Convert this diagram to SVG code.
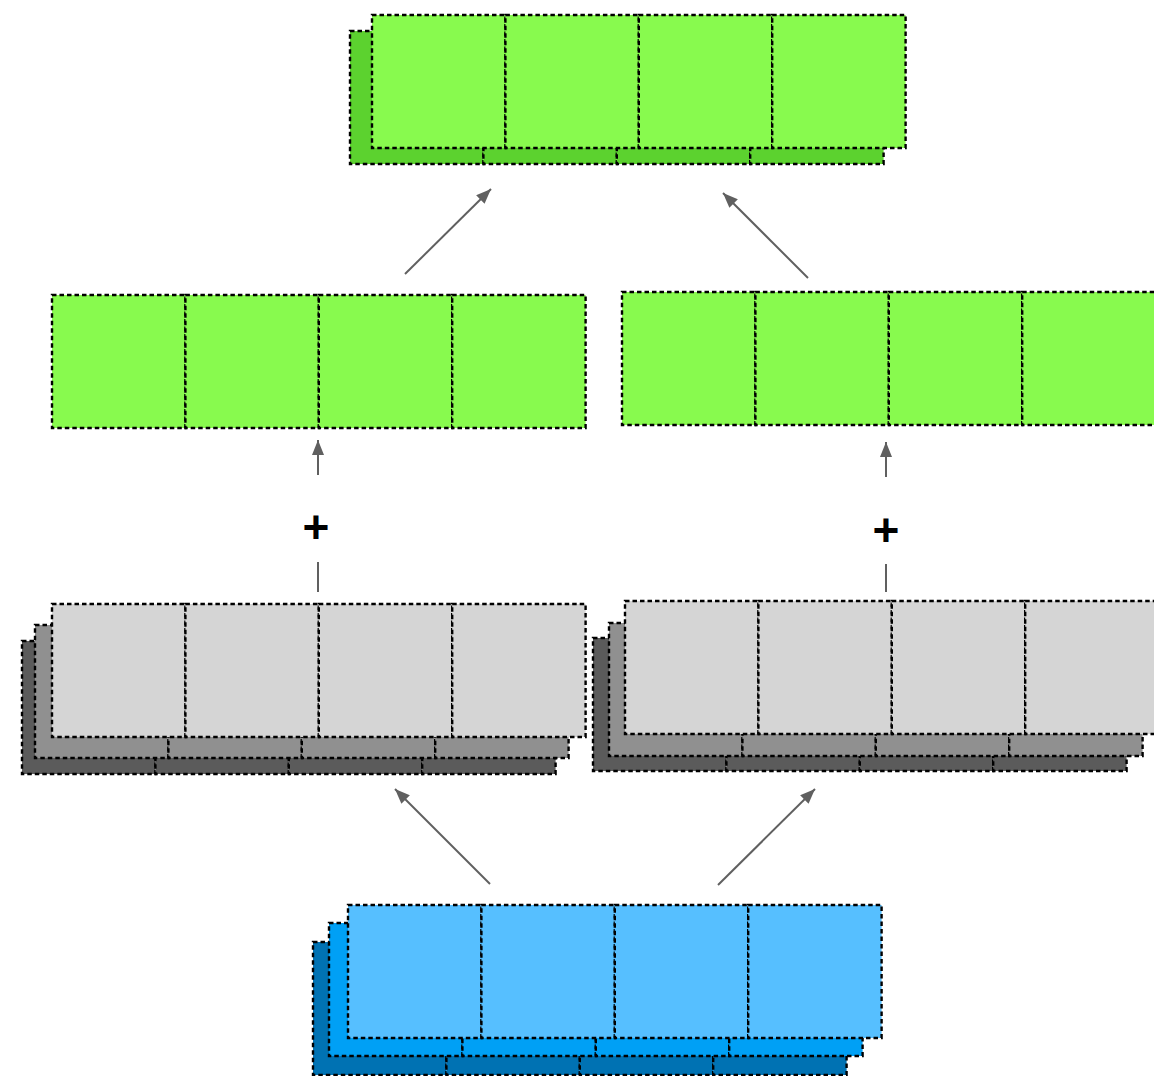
<svg xmlns="http://www.w3.org/2000/svg" width="1154" height="1076" viewBox="0 0 1154 1076">
<defs>
<style>
.g1{fill:#88FA4E}.g2{fill:#5CD22F}
.y1{fill:#D5D5D5}.y2{fill:#909090}.y3{fill:#5B5B5B}
.b1{fill:#56BFFF}.b2{fill:#00A0F5}.b3{fill:#0072B3}
.ln{stroke:#606060;stroke-width:2;fill:none}
.plus{font-family:"Liberation Sans",Arial,sans-serif;font-weight:bold;font-size:46px;text-anchor:middle}
</style>
<marker id="ah" viewBox="0 0 15 12" refX="15" refY="6" markerWidth="15" markerHeight="12" markerUnits="userSpaceOnUse" orient="auto">
<path d="M0,0 L15,6 L0,12 z" fill="#606060"/>
</marker>
<g id="row" stroke="#000000" stroke-width="2.4" stroke-dasharray="4.5 3">
<rect x="0" y="0" width="133.4" height="133"/>
<rect x="133.4" y="0" width="133.4" height="133"/>
<rect x="266.8" y="0" width="133.4" height="133"/>
<rect x="400.2" y="0" width="133.4" height="133"/>
</g>
</defs>

<g id="top-output">
<use href="#row" class="g2" x="350" y="31"/>
<use href="#row" class="g1" x="372" y="15"/>
</g>

<g id="mid-left-output">
<use href="#row" class="g1" x="52" y="295"/>
</g>

<g id="mid-right-output">
<use href="#row" class="g1" x="622" y="292"/>
</g>

<g id="gray-left">
<use href="#row" class="y3" x="22" y="641"/>
<use href="#row" class="y2" x="35" y="625"/>
<use href="#row" class="y1" x="52" y="604"/>
</g>

<g id="gray-right">
<use href="#row" class="y3" x="593" y="638"/>
<use href="#row" class="y2" x="609" y="623"/>
<use href="#row" class="y1" x="625" y="601"/>
</g>

<g id="blue-input">
<use href="#row" class="b3" x="313" y="942"/>
<use href="#row" class="b2" x="329" y="923"/>
<use href="#row" class="b1" x="348" y="905"/>
</g>

<g id="connectors">
<line class="ln" x1="405" y1="274" x2="491" y2="189" marker-end="url(#ah)"/>
<line class="ln" x1="808" y1="278" x2="723" y2="193" marker-end="url(#ah)"/>
<line class="ln" x1="490" y1="884" x2="395" y2="789" marker-end="url(#ah)"/>
<line class="ln" x1="718" y1="885" x2="815" y2="789" marker-end="url(#ah)"/>
<line class="ln" x1="318" y1="475" x2="318" y2="440" marker-end="url(#ah)"/>
<line class="ln" x1="318" y1="562" x2="318" y2="592"/>
<line class="ln" x1="886" y1="477" x2="886" y2="442" marker-end="url(#ah)"/>
<line class="ln" x1="886" y1="564" x2="886" y2="592"/>
</g>

<g id="plus-left"><text class="plus" x="316" y="543">+</text></g>
<g id="plus-right"><text class="plus" x="886" y="546">+</text></g>
</svg>
